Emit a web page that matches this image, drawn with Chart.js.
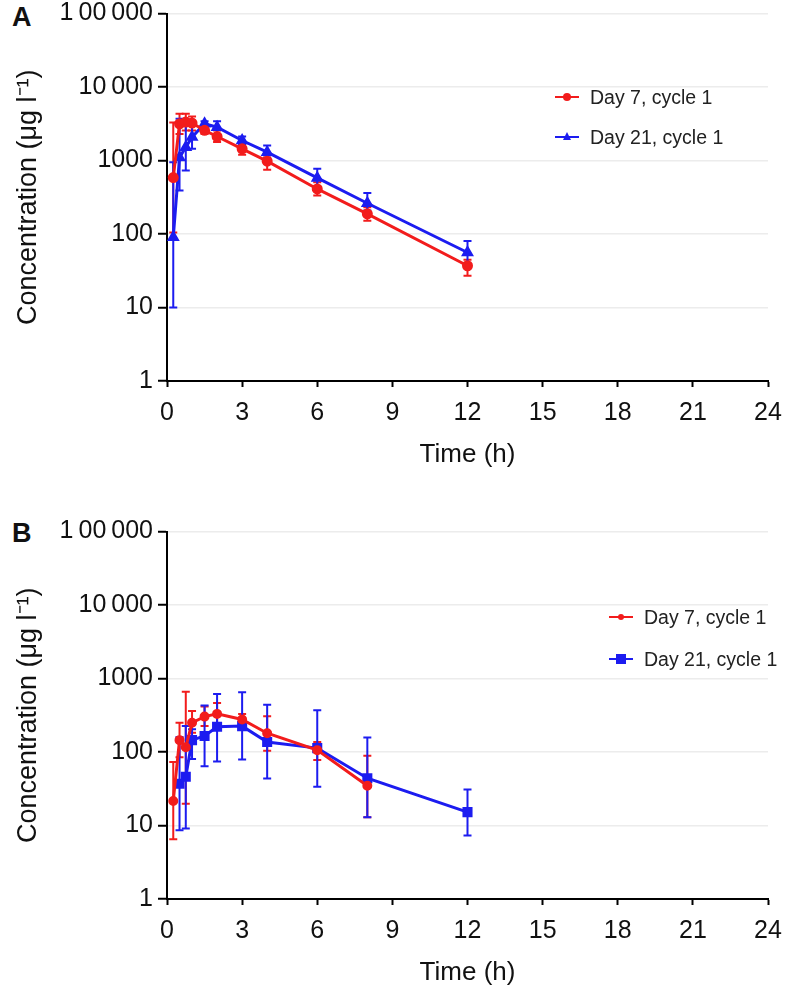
<!DOCTYPE html>
<html><head><meta charset="utf-8">
<script src="https://cdn.jsdelivr.net/npm/chart.js@4.4.1/dist/chart.umd.min.js"></script>
<style>
html,body{margin:0;padding:0;background:#fff;}
body{width:787px;height:989px;position:relative;overflow:hidden;font-family:"Liberation Sans",Arial,sans-serif;}
.panel{position:absolute;left:0;width:787px;height:470px;}
.lbl{position:absolute;left:12px;font-weight:bold;font-size:27px;color:#111;line-height:30px;}
.row{position:absolute;height:24px;font-size:19.5px;color:#222;white-space:nowrap;line-height:24px;}
.row .sw{position:absolute;left:0;top:11px;width:24px;height:2px;}
.row .dot{position:absolute;}
.row .tx{position:absolute;left:35px;top:0;}
</style>
</head><body>
<div class="lbl" style="top:2px">A</div>
<div class="lbl" style="top:518px">B</div>
<div class="panel" style="top:0"><canvas id="cA" width="787" height="470"></canvas></div>
<div class="panel" style="top:518px"><canvas id="cB" width="787" height="470"></canvas></div>

<div class="row" style="left:555px;top:85px"><span class="sw" style="background:#f21c1c"></span><span class="dot" style="left:8px;top:8px;width:8px;height:8px;border-radius:50%;background:#f21c1c"></span><span class="tx">Day 7, cycle 1</span></div>
<div class="row" style="left:555px;top:125px"><span class="sw" style="background:#1c1cf0"></span><span class="dot" style="left:8px;top:7px;width:0;height:0;border-left:4px solid transparent;border-right:4px solid transparent;border-bottom:8px solid #1c1cf0"></span><span class="tx">Day 21, cycle 1</span></div>

<div class="row" style="left:609px;top:605px"><span class="sw" style="background:#f21c1c"></span><span class="dot" style="left:9px;top:9px;width:6px;height:6px;border-radius:50%;background:#f21c1c"></span><span class="tx">Day 7, cycle 1</span></div>
<div class="row" style="left:609px;top:647px"><span class="sw" style="background:#1c1cf0"></span><span class="dot" style="left:7px;top:7px;width:10px;height:10px;background:#1c1cf0"></span><span class="tx">Day 21, cycle 1</span></div>

<script>
// ---- data ----
const xTickValues = [0, 3, 6, 9, 12, 15, 18, 21, 24];
const yTickValues = [1, 10, 100, 1000, 10000, 100000];
const yTickLabels = ['1', '10', '100', '1000', '10\u2009000', '1\u200900\u2009000'];
const seriesNames = ['Day 7, cycle 1', 'Day 21, cycle 1'];

// Panel A
const timesA = [0.25, 0.5, 0.75, 1, 1.5, 2, 3, 4, 6, 8, 12];
const day7A = [585, 3150, 3330, 3230, 2570, 2120, 1440, 980, 410, 188, 37];
const day7ALo = [105, 2300, 2560, 2560, 2300, 1780, 1200, 750, 334, 152, 27];
const day7AHi = [3300, 4330, 4330, 3970, 3000, 2560, 1690, 1170, 505, 231, 44.5];
const day21A = [90, 1100, 1520, 2080, 3160, 2840, 1870, 1300, 580, 262, 56];
const day21ALo = [10, 390, 730, 1440, 2790, 2300, 1650, 1090, 430, 208, 39];
const day21AHi = [950, 3700, 3000, 3000, 3430, 3430, 2120, 1600, 770, 360, 80];

// Panel B
const timesB7 = [0.25, 0.5, 0.75, 1, 1.5, 2, 3, 4, 6, 8];
const day7B = [21.6, 145, 116, 250, 303, 330, 277, 180, 106, 34.7];
const day7BLo = [6.5, 85, 19.7, 183, 225, 237, 225, 104, 78, 13];
const day7BHi = [73, 250, 660, 360, 417, 463, 330, 307, 137, 89];
const timesB21 = [0.5, 0.75, 1, 1.5, 2, 3, 4, 6, 8, 12];
const day21B = [37, 46, 145, 165, 221, 225, 137, 113, 44, 15.2];
const day21BLo = [8.6, 9.1, 80, 64, 74, 79, 43.6, 33.6, 13, 7.3];
const day21BHi = [160, 225, 204, 430, 617, 650, 440, 369, 157, 31];

// ---- styles ----
const RED = '#f21c1c', BLUE = '#1c1cf0';
const FONT = '"Liberation Sans", Arial, sans-serif';

const errorBars = {
  id: 'errorBars',
  beforeDatasetsDraw(chart) {
    const ctx = chart.ctx, xs = chart.scales.x, ys = chart.scales.y;
    chart.data.datasets.forEach(ds => {
      if (!ds.errLo) return;
      ctx.save();
      ctx.strokeStyle = ds.borderColor;
      ctx.lineWidth = 2;
      ds.data.forEach((p, j) => {
        const x = xs.getPixelForValue(p.x);
        const y1 = ys.getPixelForValue(ds.errLo[j]);
        const y2 = ys.getPixelForValue(ds.errHi[j]);
        ctx.beginPath();
        ctx.moveTo(x, y1); ctx.lineTo(x, y2);
        ctx.moveTo(x - 4, y1); ctx.lineTo(x + 4, y1);
        ctx.moveTo(x - 4, y2); ctx.lineTo(x + 4, y2);
        ctx.stroke();
      });
      ctx.restore();
    });
  }
};

function pts(t, v) { return t.map((x, i) => ({x: x, y: v[i]})); }

function makeChart(id, datasets) {
  return new Chart(document.getElementById(id), {
    type: 'line',
    data: {datasets: datasets},
    plugins: [errorBars],
    options: {
      responsive: false,
      animation: false,
      events: [],
      layout: {padding: {top: 13.5, left: 0, right: 19, bottom: 0}},
      plugins: {legend: {display: false}, tooltip: {enabled: false}},
      scales: {
        x: {
          type: 'linear', min: 0, max: 24,
          afterBuildTicks: s => { s.ticks = xTickValues.map(v => ({value: v})); },
          afterFit: s => { s.height = 470 - 381; s.paddingLeft = 0; s.paddingRight = 0; },
          ticks: {font: {family: FONT, size: 25, lineHeight: 1}, color: '#111', padding: 14, maxRotation: 0},
          grid: {drawOnChartArea: false, tickLength: 6, tickColor: '#000', tickWidth: 2},
          border: {color: '#000', width: 2},
          title: {display: true, text: 'Time (h)', color: '#111', font: {family: FONT, size: 26}, padding: {top: 0, bottom: 0}}
        },
        y: {
          type: 'logarithmic', min: 1, max: 100000,
          afterBuildTicks: s => { s.ticks = yTickValues.map(v => ({value: v})); },
          afterFit: s => { s.width = 167; s.paddingTop = 0; s.paddingBottom = 0; },
          ticks: {font: {family: FONT, size: 25, lineHeight: 1}, color: '#111', padding: 5,
                  callback: v => yTickLabels[yTickValues.indexOf(v)]},
          grid: {color: '#ececec', lineWidth: 1.5, tickLength: 9, tickColor: '#000', tickWidth: 2},
          border: {color: '#000', width: 2},
          title: {display: true, text: 'Concentration (\u03bcg l\u207b\u00b9)', color: '#111', font: {family: FONT, size: 27}, padding: {top: 12, bottom: 0}}
        }
      }
    }
  });
}

makeChart('cA', [
  {label: seriesNames[0], data: pts(timesA, day7A), errLo: day7ALo, errHi: day7AHi,
   borderColor: RED, backgroundColor: RED, borderWidth: 3, pointStyle: 'circle', pointRadius: 4, tension: 0},
  {label: seriesNames[1], data: pts(timesA, day21A), errLo: day21ALo, errHi: day21AHi,
   borderColor: BLUE, backgroundColor: BLUE, borderWidth: 3, pointStyle: 'triangle', pointRadius: 4.5, tension: 0}
]);
makeChart('cB', [
  {label: seriesNames[0], data: pts(timesB7, day7B), errLo: day7BLo, errHi: day7BHi,
   borderColor: RED, backgroundColor: RED, borderWidth: 3, pointStyle: 'circle', pointRadius: 3.5, tension: 0},
  {label: seriesNames[1], data: pts(timesB21, day21B), errLo: day21BLo, errHi: day21BHi,
   borderColor: BLUE, backgroundColor: BLUE, borderWidth: 3, pointStyle: 'rect', pointRadius: 5, tension: 0}
]);
</script>
</body></html>
